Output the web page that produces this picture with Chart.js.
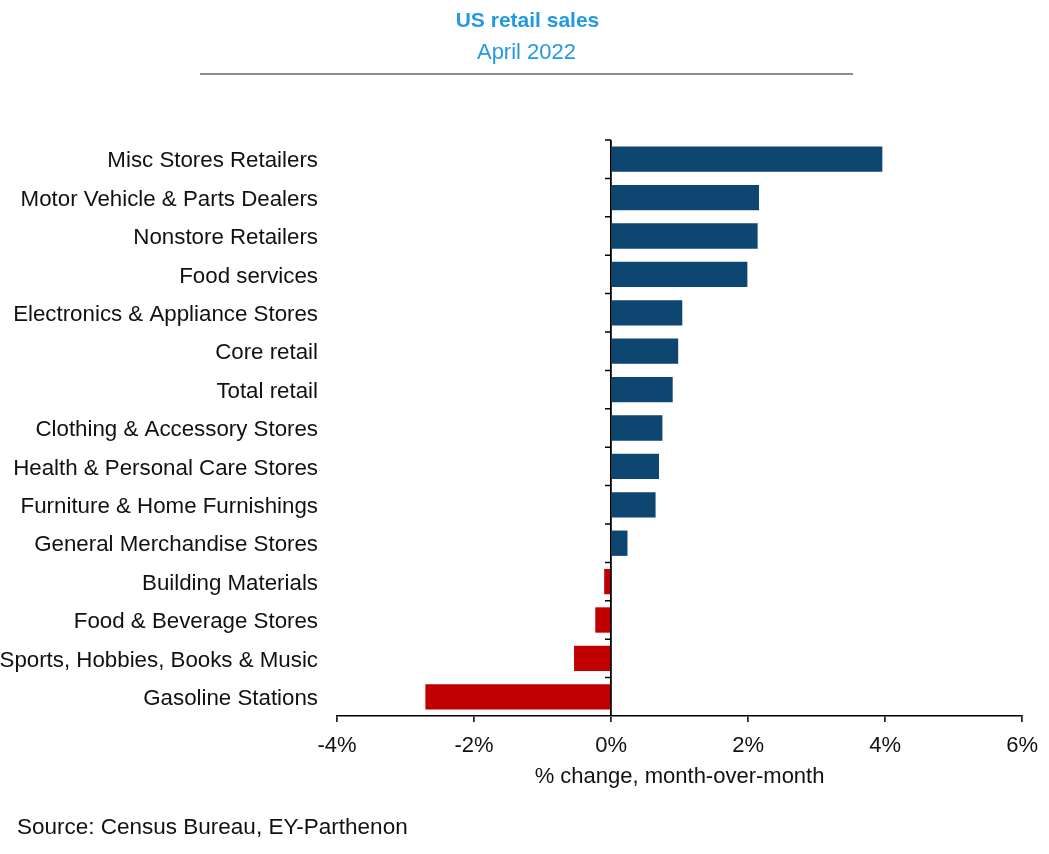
<!DOCTYPE html>
<html>
<head>
<meta charset="utf-8">
<script src="https://cdn.jsdelivr.net/npm/chart.js@4.4.0/dist/chart.umd.min.js"></script>
<style>
  body { margin: 0; background: #fff; font-family: "Liberation Sans", Arial, sans-serif; }
  #wrap { position: relative; width: 1049px; height: 854px; }
  #wrap canvas { position: absolute; left: 0; top: 0; }
  .txt { position: absolute; white-space: nowrap; line-height: 24px; }
  #title { top: 8px; left: 0; width: 1055px; text-align: center; color: #2499e3; font-size: 21px; font-weight: bold; }
  #subtitle { top: 40px; left: 0; width: 1053px; text-align: center; color: #2499e3; font-size: 22px; }
  #rule { position: absolute; top: 73px; left: 200px; width: 653px; height: 0; border-top: 2px solid #8c8c8c; }
  #source { top: 815px; left: 17px; color: #111; font-size: 22.5px; }
</style>
</head>
<body>
<div id="wrap">
  <canvas id="chart"></canvas>
  <div class="txt" id="title">US retail sales</div>
  <div class="txt" id="subtitle">April 2022</div>
  <div id="rule"></div>
  <div class="txt" id="source">Source: Census Bureau, EY-Parthenon</div>
</div>
<script>
let categories = ['Misc Stores Retailers', 'Motor Vehicle & Parts Dealers', 'Nonstore Retailers',
  'Food services', 'Electronics & Appliance Stores', 'Core retail', 'Total retail',
  'Clothing & Accessory Stores', 'Health & Personal Care Stores', 'Furniture & Home Furnishings',
  'General Merchandise Stores', 'Building Materials', 'Food & Beverage Stores',
  'Sports, Hobbies, Books & Music', 'Gasoline Stations']
let changes = [3.96, 2.16, 2.14, 1.99, 1.04, 0.98, 0.90, 0.75, 0.70, 0.65, 0.24, -0.10, -0.23, -0.54, -2.71]
let xTicks = [-4, -2, 0, 2, 4, 6]

let blue = '#0e4672', red = '#c00000'
let font = '"Liberation Sans", Arial, sans-serif'

// little tick marks on the zero line between categories
let zeroTicks = {
  id: 'zeroTicks',
  afterDatasetsDraw(chart) {
    let ctx = chart.ctx, x = chart.scales.x, y = chart.scales.y
    let x0 = x.getPixelForValue(0)
    let step = (y.bottom - y.top) / categories.length
    ctx.save()
    ctx.strokeStyle = '#000'
    ctx.lineWidth = 1.5
    ctx.beginPath()
    for (let i = 0; i < categories.length; i++) {
      let yy = y.top + i * step
      ctx.moveTo(x0 - 6, yy)
      ctx.lineTo(x0, yy)
    }
    ctx.stroke()
    ctx.restore()
  }
}

new Chart(document.getElementById('chart'), {
  type: 'bar',
  data: {
    labels: categories,
    datasets: [{
      data: changes,
      backgroundColor: changes.map(v => v < 0 ? red : blue),
      barPercentage: 0.66,
      categoryPercentage: 1
    }]
  },
  options: {
    indexAxis: 'y',
    responsive: true,
    maintainAspectRatio: false,
    animation: false,
    layout: { padding: { top: 140, right: 25, bottom: 63, left: 0 } },
    plugins: {
      legend: { display: false },
      tooltip: { enabled: false }
    },
    scales: {
      x: {
        min: xTicks[0],
        max: xTicks[xTicks.length - 1],
        afterBuildTicks: s => { s.ticks = xTicks.map(v => ({ value: v })) },
        afterFit: s => { s.height = 75 },
        ticks: {
          callback: v => v + '%',
          color: '#111',
          font: { family: font, size: 22 },
          padding: 11,
          maxRotation: 0
        },
        grid: {
          color: c => (c.tick && c.tick.value === 0) ? '#000' : 'rgba(0,0,0,0)',
          lineWidth: 1.8,
          tickColor: '#000',
          tickLength: 6,
          tickWidth: 1.5
        },
        border: { display: true, color: '#000', width: 1.5 },
        title: {
          display: true,
          text: '% change, month-over-month',
          color: '#111',
          font: { family: font, size: 22 },
          padding: { top: 0, bottom: 1 }
        }
      },
      y: {
        afterFit: s => { s.width = 337 },
        grid: { display: false, drawTicks: false },
        border: { display: false },
        ticks: {
          color: '#111',
          font: { family: font, size: 22.3 },
          padding: 19,
          labelOffset: 2,
          autoSkip: false
        }
      }
    }
  },
  plugins: [zeroTicks]
})
</script>
</body>
</html>
